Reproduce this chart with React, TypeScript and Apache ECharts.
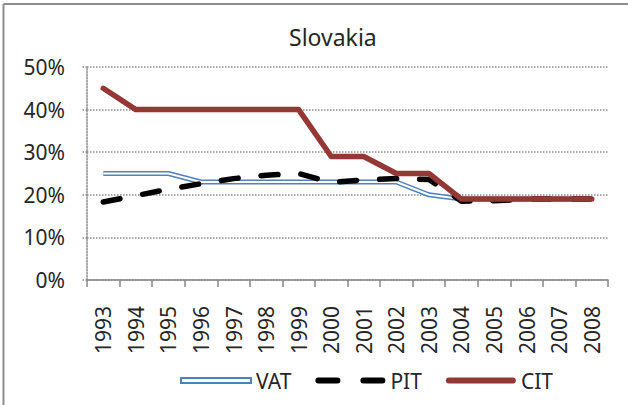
import React, { useEffect, useRef } from "react";
import * as echarts from "echarts";

const years = ["1993", "1994", "1995", "1996", "1997", "1998", "1999", "2000", "2001", "2002", "2003", "2004", "2005", "2006", "2007", "2008"];
const vat = [25, 25, 25, 23, 23, 23, 23, 23, 23, 23, 20, 19, 19, 19, 19, 19];
const pit = [18.3, 19.8, 21.3, 22.6, 23.8, 24.6, 25, 22.9, 23.5, 23.8, 23.6, 18.5, 18.6, 19, 19, 19];
const cit = [45, 40, 40, 40, 40, 40, 40, 29, 29, 25, 25, 19, 19, 19, 19, 19];
const yTicks = [0, 10, 20, 30, 40, 50];

const FONT = "Noto Sans";
const TXT = "#262626";

export default function App() {
  const ref = useRef<HTMLDivElement>(null);
  useEffect(() => {
    if (!ref.current) return;
    const chart = echarts.init(ref.current, undefined, { renderer: "svg" });
    chart.setOption({
      animation: false,
      backgroundColor: "#fff",
      title: {
        text: "Slovakia",
        left: 284,
        top: 20,
        textStyle: { fontFamily: FONT, fontSize: 23, fontWeight: "normal", color: TXT },
      },
      grid: { left: 87, right: 20, top: 67, bottom: 125 },
      legend: {
        bottom: 9,
        left: 175,
        itemWidth: 70,
        itemHeight: 6,
        itemGap: 24,
        itemStyle: { borderWidth: 0 },
        textStyle: { fontFamily: FONT, fontSize: 21, color: TXT },
        data: [
          {
            name: "VAT",
            icon: "path://M1,0.5H69V5.5H1Z",
            itemStyle: { color: "#ffffff", borderColor: "#4f81bd", borderWidth: 2 },
          },
          {
            name: "PIT",
            icon: "path://M3,0H22A3,3 0 0 1 22,6H3A3,3 0 0 1 3,0Z M48,0H67A3,3 0 0 1 67,6H48A3,3 0 0 1 48,0Z",
            itemStyle: { color: "#000000", borderWidth: 0 },
          },
          {
            name: "CIT",
            icon: "path://M3,0H67A3,3 0 0 1 67,6H3A3,3 0 0 1 3,0Z",
            itemStyle: { color: "#953735", borderWidth: 0 },
          },
        ],
      },
      xAxis: {
        type: "category",
        data: years,
        boundaryGap: true,
        axisLine: { lineStyle: { color: "#868686", width: 1.5 } },
        axisTick: { show: true, length: 7, alignWithLabel: false, lineStyle: { color: "#868686", width: 1.5 } },
        axisLabel: {
          rotate: 90,
          margin: 26,
          interval: 0,
          fontFamily: FONT,
          fontSize: 21,
          color: TXT,
        },
      },
      yAxis: {
        type: "value",
        min: 0,
        max: 50,
        interval: 10,
        axisLine: { show: true, lineStyle: { color: "#8c8c8c", width: 1.5, type: [1.5, 1.5] } },
        axisTick: { show: true, length: 6, lineStyle: { color: "#8c8c8c", width: 1.5, type: [1.5, 1.5] } },
        splitLine: { show: true, lineStyle: { color: "#8c8c8c", width: 1.5, type: [1.5, 1.5] } },
        axisLabel: {
          margin: 22,
          fontFamily: FONT,
          fontSize: 21,
          color: TXT,
          formatter: (v: number) => (yTicks.includes(v) ? v + "%" : ""),
        },
      },
      series: [
        {
          name: "VAT",
          type: "line",
          data: vat,
          symbol: "none",
          lineStyle: { color: "#4f81bd", width: 5, join: "round" },
          itemStyle: { color: "#4f81bd" },
          z: 2,
        },
        {
          name: "VAT_inner",
          type: "line",
          data: vat,
          symbol: "none",
          lineStyle: { color: "#ffffff", width: 2, join: "round" },
          itemStyle: { color: "#ffffff" },
          z: 3,
        },
        {
          name: "PIT",
          type: "line",
          data: pit,
          symbol: "none",
          lineStyle: { color: "#000000", width: 5.5, type: [17, 23], cap: "round", join: "round" },
          itemStyle: { color: "#000000" },
          z: 4,
        },
        {
          name: "CIT",
          type: "line",
          data: cit,
          symbol: "none",
          lineStyle: { color: "#953735", width: 5.5, cap: "round", join: "round" },
          itemStyle: { color: "#953735" },
          z: 5,
        },
      ],
      graphic: [
        { type: "line", shape: { x1: 3.5, y1: 4, x2: 3.5, y2: 405 }, style: { stroke: "#8c8c8c", lineWidth: 2 }, silent: true },
        { type: "line", shape: { x1: 3.5, y1: 4, x2: 628, y2: 4 }, style: { stroke: "#8c8c8c", lineWidth: 2 }, silent: true },
      ],
    });
    return () => chart.dispose();
  }, []);
  return <div ref={ref} style={{ position: "fixed", left: 0, top: 0, width: 628, height: 405 }} />;
}
